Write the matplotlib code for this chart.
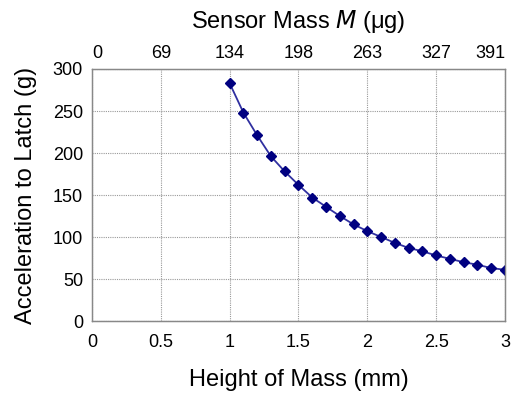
import matplotlib.pyplot as plt

plt.rcParams['font.family'] = ['Liberation Sans', 'DejaVu Sans']

# height of mass (mm) vs acceleration to latch (g)
height_mm = [1.0, 1.1, 1.2, 1.3, 1.4, 1.5, 1.6, 1.7, 1.8, 1.9, 2.0,
             2.1, 2.2, 2.3, 2.4, 2.5, 2.6, 2.7, 2.8, 2.9, 3.0]
accel_g = [283, 248, 221, 196, 178, 162, 147, 136, 125, 115, 107,
           100, 93, 87, 83, 78, 74, 70, 67, 63, 61]

bottom_ticks = [0, 0.5, 1, 1.5, 2, 2.5, 3]
bottom_labels = ["0", "0.5", "1", "1.5", "2", "2.5", "3"]
top_labels = ["0", "69", "134", "198", "263", "327", "391"]
y_ticks = [0, 50, 100, 150, 200, 250, 300]

fig = plt.figure(figsize=(5.15, 3.97), dpi=100)
ax = fig.add_axes([0.1786, 0.1914, 0.802, 0.6348])

ax.plot(height_mm, accel_g, color="#3030a0", lw=1.3, marker="D",
        markersize=4.8, markerfacecolor="#000080", markeredgecolor="#000080",
        zorder=3)

ax.set_xlim(0, 3)
ax.set_ylim(0, 300)
ax.set_xticks(bottom_ticks)
ax.set_xticklabels(bottom_labels)
ax.set_yticks(y_ticks)
ax.grid(True, color="#999999", linestyle=(0, (1, 1)), linewidth=0.8)
ax.tick_params(axis="both", length=0, labelsize=13)
ax.tick_params(axis="y", pad=6.5)
ax.tick_params(axis="x", pad=9)
for s in ax.spines.values():
    s.set_color("#888888")
    s.set_linewidth(0.9)

ax.set_xlabel("Height of Mass (mm)", fontsize=17, labelpad=13)
ax.set_ylabel("Acceleration to Latch (g)", fontsize=17, labelpad=11)

ax2 = ax.twiny()
ax2.set_xlim(ax.get_xlim())
ax2.set_xticks(bottom_ticks)
ax2.set_xticklabels(top_labels)
ax2.tick_params(axis="x", length=0, labelsize=13, pad=5)
tl = ax2.get_xticklabels()
tl[0].set_ha("left")
tl[-1].set_ha("right")
for s in ax2.spines.values():
    s.set_color("#888888")
    s.set_linewidth(0.9)
ax2.set_xlabel(r"Sensor Mass $M$ ($\mathregular{\mu}$g)", fontsize=17, labelpad=12)

fig.savefig("out.png", dpi=100)
